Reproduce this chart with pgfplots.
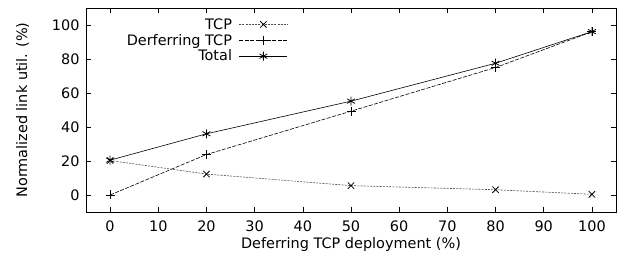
\documentclass[border=0pt]{standalone}
\usepackage{fontspec}
\setmainfont{DejaVu Sans}
\usepackage{pgfplots}
\pgfplotsset{compat=1.18}
\newcommand{\ff}{\fontsize{14.5}{17}\selectfont}
\begin{document}
\begin{tikzpicture}[font=\ff]
\begin{axis}[
  name=ax,
  scale only axis,
  width=530bp, height=204bp,
  xmin=-5, xmax=105, ymin=-10, ymax=110,
  xtick={0,10,...,100}, ytick={0,20,...,100},
  tick align=inside,
  major tick length=5bp,
  tick style={black, line width=0.6pt},
  axis line style={line width=0.8pt},
  /pgf/number format/assume math mode=true,
  tick label style={font=\ff},
  label style={font=\ff},
  xticklabel style={yshift=-5bp},
  yticklabel style={xshift=-3bp},
  xlabel={Deferring TCP deployment (\%)},
  ylabel={Normalized link util. (\%)},
  xlabel style={yshift=1bp},
  ylabel style={yshift=16bp},
  legend style={draw=none, fill=none, at={(0.383,0.965)}, anchor=north east,
    cells={anchor=east}, row sep=-0.5bp, font=\ff, inner sep=1bp,
    /tikz/every odd column/.style={column sep=5bp}},
  legend plot pos=right,
  legend image code/.code={\draw[mark repeat=2,mark phase=2,#1] plot coordinates {(0cm,0cm)(0.85cm,0cm)(1.7cm,0cm)};},
  every axis plot/.append style={line width=0.6pt, black},
  mark size=4.5bp,
]
\addplot[black!70, dash pattern=on 2pt off 1.2pt, mark=x, mark options={solid, black, line width=0.8pt}]
  coordinates {(0,20.3) (20,12.3) (50,5.5) (80,3.1) (100,0.4)};
\addlegendentry{TCP}
\addplot[black, dash pattern=on 4pt off 1.5pt, mark=+, mark options={solid, black, line width=0.8pt}]
  coordinates {(0,0) (20,23.8) (50,49.3) (80,75.0) (100,96.0)};
\addlegendentry{Derferring TCP}
\addplot[black, solid, mark=asterisk, mark options={solid, black, line width=0.8pt}]
  coordinates {(0,20.5) (20,36.0) (50,55.2) (80,77.5) (100,96.1)};
\addlegendentry{Total}
\end{axis}
\pgfresetboundingbox
\path (ax.south west) ++(-86bp,-49bp) coordinate (bl);
\path (ax.north east) ++(1bp,8bp) coordinate (tr);
\path[use as bounding box] (bl) rectangle (tr);
\end{tikzpicture}
\end{document}
